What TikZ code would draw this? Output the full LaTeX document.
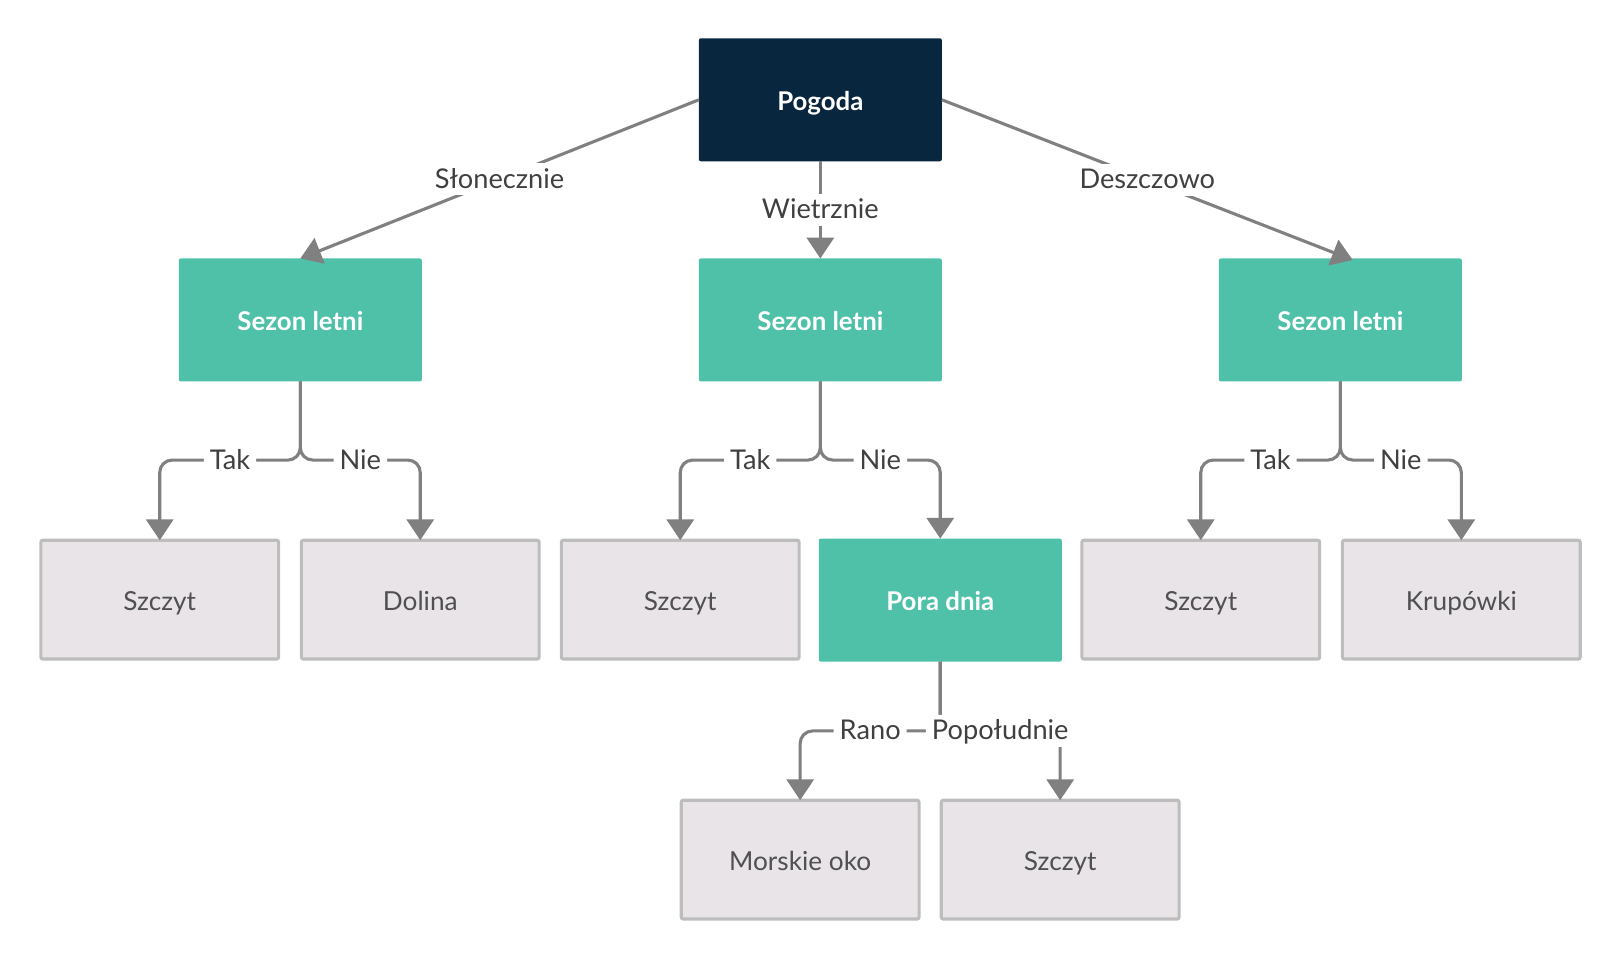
\documentclass[tikz,border=0pt]{standalone}
\usepackage{fontspec}
\setmainfont{Lato}
\usetikzlibrary{arrows.meta}
\definecolor{navy}{RGB}{8,38,62}
\definecolor{teal1}{RGB}{79,193,169}
\definecolor{boxfill}{RGB}{232,228,232}
\definecolor{boxline}{RGB}{189,189,189}
\definecolor{edgec}{RGB}{128,128,128}
\definecolor{txtc}{RGB}{80,80,80}
\definecolor{lblc}{RGB}{64,64,64}
\tikzset{
  fixtext/.style={text height=1.24em, text depth=0.2em},
  topbox/.style={rectangle, rounded corners=1pt, fill=navy, text=white, font=\fontsize{12.9}{15}\selectfont\bfseries, minimum width=121.5pt, minimum height=61.5pt, inner sep=0pt, outer sep=0pt, fixtext},
  decbox/.style={rectangle, rounded corners=1pt, fill=teal1, text=white, font=\fontsize{12.9}{15}\selectfont\bfseries, minimum width=121.5pt, minimum height=61.5pt, inner sep=0pt, outer sep=0pt, fixtext},
  leafbox/.style={rectangle, rounded corners=1pt, fill=boxfill, draw=boxline, line width=1.55pt, text=txtc, font=\fontsize{13.1}{15}\selectfont, minimum width=118.9pt, minimum height=59.4pt, inner sep=0pt, outer sep=0pt, fixtext},
  edge/.style={draw=edgec, line width=1.55pt, -{Triangle[width=13.5pt,length=10.4pt]}},
  lbl/.style={fill=white, text=lblc, font=\fontsize{13.6}{16}\selectfont, inner xsep=3pt, inner ysep=1.5pt, text height=1.1em, text depth=0.2em},
}
\begin{document}
\begin{tikzpicture}[x=0.5169pt,y=-0.5169pt]
\useasboundingbox (0,0) rectangle (1567,928.6);
\node[topbox] (pogoda) at (793.5,96.5) {Pogoda};
\node[decbox] (s1) at (290.5,309.5) {Sezon letni};
\node[decbox] (s2) at (793.5,309.5) {Sezon letni};
\node[decbox] (s3) at (1296.5,309.5) {Sezon letni};
\node[leafbox] (a1) at (154.5,580) {Szczyt};
\node[leafbox] (a2) at (406.5,580) {Dolina};
\node[leafbox] (b1) at (658,580) {Szczyt};
\node[decbox] (pora) at (909.5,580.5) {Pora dnia};
\node[leafbox] (c1) at (1161.5,580) {Szczyt};
\node[leafbox] (c2) at (1413.5,580) {Krupówki};
\node[leafbox] (d1) at (774,831.5) {Morskie oko};
\node[leafbox] (d2) at (1025.5,831.5) {Szczyt};
\coordinate (s3in) at ([xshift=6.2pt,yshift=-0.8pt]s3.north);

\draw[edge] (pogoda.west) -- node[lbl]{Słonecznie} (s1.north);
\draw[edge] (pogoda.south) -- node[lbl]{Wietrznie} (s2.north);
\draw[edge] (pogoda.east) -- node[lbl]{Deszczowo} (s3in);

\draw[edge, rounded corners=6.2pt] (s1.south) -- ++(0,76) -| node[pos=0.25,lbl]{Tak} (a1.north);
\draw[edge, rounded corners=6.2pt] (s1.south) -- ++(0,76) -| node[pos=0.25,lbl]{Nie} (a2.north);
\draw[edge, rounded corners=6.2pt] (s2.south) -- ++(0,76) -| node[pos=0.25,lbl]{Tak} (b1.north);
\draw[edge, rounded corners=6.2pt] (s2.south) -- ++(0,76) -| node[pos=0.25,lbl]{Nie} (pora.north);
\draw[edge, rounded corners=6.2pt] (s3.south) -- ++(0,76) -| node[pos=0.25,lbl]{Tak} (c1.north);
\draw[edge, rounded corners=6.2pt] (s3.south) -- ++(0,76) -| node[pos=0.25,lbl]{Nie} (c2.north);
\draw[edge, rounded corners=6.2pt] (pora.south) -- ++(0,67) -| node[pos=0.25,lbl]{Rano} (d1.north);
\draw[edge, rounded corners=6.2pt] (pora.south) -- ++(0,67) -| node[pos=0.25,lbl]{Popołudnie} (d2.north);
\end{tikzpicture}
\end{document}
